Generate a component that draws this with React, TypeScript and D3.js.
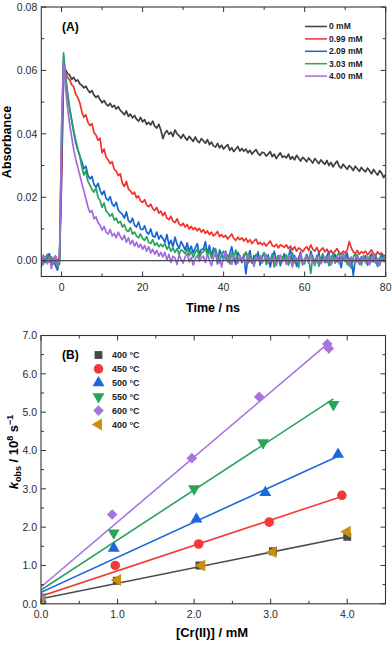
import React from "react";
import * as d3 from "d3";

const W = 392;
const H = 645;
const FONT = "'Liberation Sans', Arial, sans-serif";

// ---------- Panel A: transient absorbance, x 1e-4, sampled every 0.5 ns from -5 ns ----------
const T_START = -5;
const T_STEP = 0.5;

const abs0mM = [
  5, -8, 3, 12, -4, 6, -10, 2, -6, 4, 250, 590, 602, 590, 585, 572, 578, 566, 570, 558,
  553, 545, 550, 538, 530, 536, 522, 515, 520, 508, 498, 505, 494, 488, 496, 484, 490, 478, 486, 474,
  468, 460, 472, 455, 462, 450, 458, 446, 440, 452, 438, 445, 430, 436, 428, 440, 424, 418, 430, 412,
  385, 402, 410, 398, 405, 392, 412, 400, 394, 386, 398, 388, 380, 392, 384, 376, 390, 378, 372, 385,
  378, 370, 382, 366, 374, 362, 358, 370, 356, 364, 352, 360, 366, 348, 356, 344, 352, 360, 346, 354,
  345, 352, 340, 348, 336, 344, 350, 338, 332, 342, 340, 330, 336, 344, 328, 336, 322, 332, 340, 326,
  330, 324, 336, 320, 328, 318, 332, 324, 314, 326, 320, 312, 324, 316, 308, 322, 314, 306, 318, 310,
  304, 316, 300, 310, 296, 306, 314, 298, 292, 304, 296, 288, 300, 294, 284, 298, 290, 282, 294, 286,
  280, 292, 284, 274, 288, 278, 270, 284, 276, 262, 272,
];
const abs099mM = [
  12, -5, 8, 20, 4, -10, 6, 15, -3, 10, 300, 610, 590, 578, 570, 555, 548, 525, 515, 498,
  470, 452, 460, 436, 426, 432, 404, 396, 380, 386, 340, 352, 326, 318, 306, 312, 288, 282, 268, 274,
  244, 234, 250, 226, 220, 210, 216, 198, 204, 188, 184, 192, 176, 170, 178, 164, 158, 168, 150, 156,
  142, 152, 134, 130, 140, 124, 120, 132, 116, 110, 118, 106, 114, 100, 108, 98, 104, 94, 102, 90,
  98, 86, 94, 82, 90, 78, 84, 92, 76, 82, 74, 80, 68, 76, 84, 70, 64, 74, 66, 72,
  62, 70, 58, 66, 54, 62, 68, 52, 58, 50, 56, 46, 54, 62, 48, 44, 52, 40, 50, 46,
  42, 50, 38, 46, 34, 44, 30, 40, 36, 28, 38, 44, 32, 50, 36, 30, 42, 26, 34, 40,
  28, 36, 24, 32, 22, 30, 38, 26, 20, 30, 24, 34, 60, 40, 28, 22, 32, 20, 28, 24,
  30, 18, 26, 34, 22, 16, 28, 20, 24, 14, 18,
];
const abs209mM = [
  -20, 10, -5, 15, 22, -8, 5, -15, -30, 8, 350, 640, 570, 520, 478, 440, 405, 372, 350, 330,
  312, 290, 298, 270, 258, 266, 240, 232, 244, 222, 208, 220, 196, 190, 202, 178, 172, 184, 160, 152,
  146, 134, 154, 126, 120, 134, 112, 106, 122, 100, 98, 110, 90, 84, 100, 78, 74, 90, 68, 80,
  70, 58, 82, 50, 64, 44, 74, 52, 38, 60, 48, 34, 56, 30, 46, 24, 40, 54, 20, 36,
  36, 60, 22, 48, 12, 40, 26, -10, 34, 18, 6, 30, -4, 22, 44, 8, -12, 26, 14, -6,
  20, -42, 12, 32, -8, 16, 4, 28, -14, 10, 24, -6, 18, -20, 8, 30, -2, 14, -16, 6,
  22, -10, 12, 36, -4, 16, -18, 8, 26, -12, 4, 18, -8, 30, 10, -14, 6, 24, -2, 12,
  -6, 16, 28, -12, 6, 20, -4, 10, -22, 14, 2, 24, -10, 8, -46, 4, 18, -8, 12, 0,
  16, -14, 8, 22, -4, 10, -18, 6, 20, -2, 12,
];
const abs303mM = [
  8, -12, 6, 18, -4, 12, -8, 4, -20, -10, 400, 655, 585, 530, 480, 445, 410, 380, 352, 330,
  296, 270, 284, 250, 238, 224, 216, 230, 200, 190, 168, 182, 156, 150, 140, 148, 128, 134, 118, 124,
  106, 114, 96, 92, 104, 84, 90, 78, 72, 84, 70, 64, 76, 58, 54, 66, 48, 56, 44, 52,
  44, 54, 36, 46, 30, 40, 26, 38, 20, 34, 30, 22, 40, 16, 30, 10, 26, 36, 8, 24,
  28, 40, 16, 32, 8, 26, 38, 12, -6, 22, 30, 4, 18, -10, 24, 10, 34, -4, 16, 2,
  12, 28, -8, 18, 4, -16, 20, 8, -4, 14, 26, -12, 10, 0, 22, -20, 6, 16, -8, 12,
  4, 18, -14, 10, 24, -6, 8, -22, 14, 2, -10, 20, 6, -40, 12, -4, 16, -18, 8, 22,
  -2, 12, -16, 6, 20, -8, 14, 28, -6, 4, 18, -12, 8, -24, 10, 24, -4, 6, -14, 16,
  2, -10, 14, -4, 8, 20, -16, 6, -2, 12, -8,
];
const abs400mM = [
  -15, 18, 5, -10, 10, -25, 8, 14, -12, 4, 420, 630, 540, 480, 430, 390, 350, 320, 295, 270,
  244, 220, 196, 170, 152, 158, 132, 138, 120, 112, 96, 108, 90, 84, 98, 78, 86, 72, 90, 76,
  66, 80, 58, 72, 52, 64, 46, 58, 42, 52, 36, 48, 30, 44, 24, 36, 20, 32, 14, 26,
  12, 26, 2, 20, -6, 14, 8, -12, 18, 4, -8, 12, 22, -4, 10, -14, 6, 16, -2, 8,
  14, -6, 20, 2, -16, 10, 24, -4, 8, -20, 12, 28, -2, 6, -12, 18, 4, -8, 14, 0,
  10, -14, 22, -4, 6, -18, 12, 2, 16, -8, 4, 20, -10, 8, -2, 14, -16, 6, 18, -4,
  8, -12, 16, 0, -20, 10, 4, -6, 18, -14, 6, 12, -8, 20, -2, -16, 8, 14, -10, 2,
  12, -6, 18, -14, 4, -2, 16, -10, 8, 22, -4, 6, -18, 12, 0, -8, 14, -12, 6, 10,
  -6, 12, -14, 4, 18, -8, 8, -16, 6, -2, 10,
];

const traceLabels = ["0 mM", "0.99 mM", "2.09 mM", "3.03 mM", "4.00 mM"];
const traceColors = ["#3f3f3f", "#f2302c", "#1565d6", "#27a35a", "#a36ade"];
const traceValues = [abs0mM, abs099mM, abs209mM, abs303mM, abs400mM];

// ---------- Panel B: kobs vs [Cr(II)] ----------
const seriesLabels = ["400 °C", "450 °C", "500 °C", "550 °C", "600 °C", "400 °C"];
const seriesColors = ["#4a4a4a", "#f23a3a", "#1a68dc", "#2aa35c", "#a874e2", "#c8900e"];
const seriesShapes = ["square", "circle", "up", "down", "diamond", "left"];

const conc400 = [0, 0.99, 2.07, 3.03, 4.0];
const kobs400 = [0.08, 0.6, 1.0, 1.37, 1.75];
const conc450 = [0, 0.97, 2.06, 2.98, 3.93];
const kobs450 = [0.15, 1.0, 1.56, 2.13, 2.83];
const conc500 = [0, 0.95, 2.03, 2.93, 3.88];
const kobs500 = [0.12, 1.45, 2.21, 2.9, 3.9];
const conc550 = [0, 0.95, 2.0, 2.9, 3.82];
const kobs550 = [0.18, 1.85, 3.0, 4.2, 5.2];
const conc600 = [0, 0.93, 1.97, 2.85, 3.76, 3.74];
const kobs600 = [0.17, 2.33, 3.8, 5.4, 6.66, 6.78];
const conc400b = [0, 1.0, 2.1, 3.03, 4.0];
const kobs400b = [0.04, 0.62, 1.0, 1.35, 1.88];

const seriesConc = [conc400, conc450, conc500, conc550, conc600, conc400b];
const seriesKobs = [kobs400, kobs450, kobs500, kobs550, kobs600, kobs400b];

// linear fits (first five series)
const fitIntercepts = [0.13, 0.2, 0.3, 0.36, 0.44];
const fitSlopes = [0.405, 0.662, 0.915, 1.305, 1.695];
const fitEnds = [4.0, 3.94, 3.88, 3.82, 3.75];

// ---------- geometry ----------
const A = { left: 41.3, right: 385.7, top: 7, bottom: 276.5 };
const B = { left: 41, right: 385.5, top: 335.5, bottom: 603.8 };

const xA = d3.scaleLinear().domain([-5, 80]).range([A.left, A.right]);
const yA = d3.scaleLinear().domain([-0.005, 0.08]).range([A.bottom, A.top]);
const xB = d3.scaleLinear().domain([0, 4.5]).range([B.left, B.right]);
const yB = d3.scaleLinear().domain([0, 7]).range([B.bottom, B.top]);

const AX = "#333";

function Frame({ box, x, y, xMajor, xMinor, yMajor, yMinor, xFmt, yFmt }: any) {
  const ticks: any[] = [];
  const add = (vals: number[], len: number, key: string) => {
    vals.forEach((v, i) => {
      const px = x(v);
      ticks.push(<line key={key + "b" + i} x1={px} x2={px} y1={box.bottom} y2={box.bottom - len} />);
      ticks.push(<line key={key + "t" + i} x1={px} x2={px} y1={box.top} y2={box.top + len} />);
    });
  };
  const addY = (vals: number[], len: number, key: string) => {
    vals.forEach((v, i) => {
      const py = y(v);
      ticks.push(<line key={key + "l" + i} x1={box.left} x2={box.left + len} y1={py} y2={py} />);
      ticks.push(<line key={key + "r" + i} x1={box.right} x2={box.right - len} y1={py} y2={py} />);
    });
  };
  add(xMajor, 5, "xM");
  add(xMinor, 3, "xm");
  addY(yMajor, 5, "yM");
  addY(yMinor, 3, "ym");
  return (
    <g>
      <g stroke={AX} strokeWidth={1}>{ticks}</g>
      <rect x={box.left} y={box.top} width={box.right - box.left} height={box.bottom - box.top}
        fill="none" stroke={AX} strokeWidth={1.1} />
      <g fontFamily={FONT} fontSize={10.5} fill="#2a2a2a">
        {xMajor.map((v: number, i: number) => (
          <text key={"xl" + i} x={x(v)} y={box.bottom + 14} textAnchor="middle">{xFmt(v)}</text>
        ))}
        {yMajor.map((v: number, i: number) => (
          <text key={"yl" + i} x={box.left - 4} y={y(v)} dy="0.36em" textAnchor="end">{yFmt(v)}</text>
        ))}
      </g>
    </g>
  );
}

function symbolPath(shape: string) {
  if (shape === "circle") return { d: d3.symbol(d3.symbolCircle, 72)() as string, rot: 0 };
  if (shape === "square") return { d: d3.symbol(d3.symbolSquare, 62)() as string, rot: 0 };
  if (shape === "diamond") return { d: d3.symbol(d3.symbolSquare, 56)() as string, rot: 45 };
  if (shape === "up") return { d: d3.symbol(d3.symbolTriangle, 62)() as string, rot: 0 };
  if (shape === "down") return { d: d3.symbol(d3.symbolTriangle, 62)() as string, rot: 180 };
  return { d: d3.symbol(d3.symbolTriangle, 62)() as string, rot: -90 };
}

export default function App() {
  const time = traceValues[0].map((_, i) => T_START + i * T_STEP);
  const traceLine = (vals: number[]) =>
    d3.line<number>().x((_, i) => xA(time[i])).y((v) => yA(v * 1e-4))(vals) as string;

  return (
    <div style={{ position: "fixed", left: 0, top: 0 }}>
      <svg width={W} height={H} style={{ display: "block", background: "#fff" }}>
        <defs>
          <clipPath id="clipA"><rect x={A.left} y={A.top} width={A.right - A.left} height={A.bottom - A.top} /></clipPath>
          <clipPath id="clipB"><rect x={B.left} y={B.top} width={B.right - B.left} height={B.bottom - B.top} /></clipPath>
        </defs>

        {/* ----- Panel A ----- */}
        <g clipPath="url(#clipA)">
          {traceValues.map((vals, k) => (
            <path key={k} d={traceLine(vals)} fill="none" stroke={traceColors[k]} strokeWidth={1.7} strokeLinejoin="round" />
          ))}
          <line x1={A.left} x2={A.right} y1={yA(0)} y2={yA(0)} stroke="#4a4a4a" strokeWidth={1.3} />
        </g>
        <Frame box={A} x={xA} y={yA}
          xMajor={[0, 20, 40, 60, 80]} xMinor={[10, 30, 50, 70]}
          yMajor={[0, 0.02, 0.04, 0.06, 0.08]} yMinor={[0.01, 0.03, 0.05, 0.07]}
          xFmt={d3.format("d")} yFmt={d3.format(".2f")} />
        <text x={62} y={31} fontFamily={FONT} fontWeight="bold" fontSize={12}>(A)</text>
        <g fontFamily={FONT} fontWeight="bold" fontSize={8.5} fill="#222">
          {traceLabels.map((lab, k) => (
            <g key={k} transform={`translate(0,${26.5 + k * 12.4})`}>
              <line x1={305} x2={327} stroke={traceColors[k]} strokeWidth={1.5} />
              <text x={329} dy="0.35em">{lab}</text>
            </g>
          ))}
        </g>
        <text transform={`translate(11,142) rotate(-90)`} textAnchor="middle" fontFamily={FONT}
          fontWeight="bold" fontSize={12.5}>Absorbance</text>
        <text x={213} y={312} textAnchor="middle" fontFamily={FONT} fontWeight="bold" fontSize={12.5}>Time / ns</text>

        {/* ----- Panel B ----- */}
        <g clipPath="url(#clipB)">
          {fitIntercepts.map((b0, k) => (
            <line key={"fit" + k} x1={xB(0)} y1={yB(b0)} x2={xB(fitEnds[k])} y2={yB(b0 + fitSlopes[k] * fitEnds[k])}
              stroke={seriesColors[k]} strokeWidth={1.6} />
          ))}
          {seriesConc.map((cs, k) => {
            const s = symbolPath(seriesShapes[k]);
            return cs.map((c, i) => (
              <path key={k + "-" + i} d={s.d} fill={seriesColors[k]}
                transform={`translate(${xB(c)},${yB(seriesKobs[k][i])}) rotate(${s.rot})`} />
            ));
          })}
        </g>
        <Frame box={B} x={xB} y={yB}
          xMajor={[0, 1, 2, 3, 4]} xMinor={[0.5, 1.5, 2.5, 3.5]}
          yMajor={[0, 1, 2, 3, 4, 5, 6, 7]} yMinor={[0.5, 1.5, 2.5, 3.5, 4.5, 5.5, 6.5]}
          xFmt={d3.format(".1f")} yFmt={d3.format(".1f")} />
        <text x={62} y={359} fontFamily={FONT} fontWeight="bold" fontSize={12}>(B)</text>
        <g fontFamily={FONT} fontWeight="bold" fontSize={9} fill="#222">
          {seriesLabels.map((lab, k) => {
            const s = symbolPath(seriesShapes[k]);
            return (
              <g key={k} transform={`translate(0,${355 + k * 13.9})`}>
                <path d={s.d} fill={seriesColors[k]} transform={`translate(98.5,0) rotate(${s.rot})`} />
                <text x={112} dy="0.35em">{lab}</text>
              </g>
            );
          })}
        </g>
        <text transform={`translate(18,452) rotate(-90)`} textAnchor="middle" fontFamily={FONT}
          fontWeight="bold" fontSize={13}>
          <tspan fontStyle="italic">k</tspan>
          <tspan fontSize={9} dy={3}>obs</tspan>
          <tspan dy={-3}> / 10</tspan>
          <tspan fontSize={9} dy={-5}>8</tspan>
          <tspan dy={5}>  s</tspan>
          <tspan fontSize={9} dy={-5}>−1</tspan>
        </text>
        <text x={212} y={637} textAnchor="middle" fontFamily={FONT} fontWeight="bold" fontSize={13}>[Cr(II)] / mM</text>
      </svg>
    </div>
  );
}
